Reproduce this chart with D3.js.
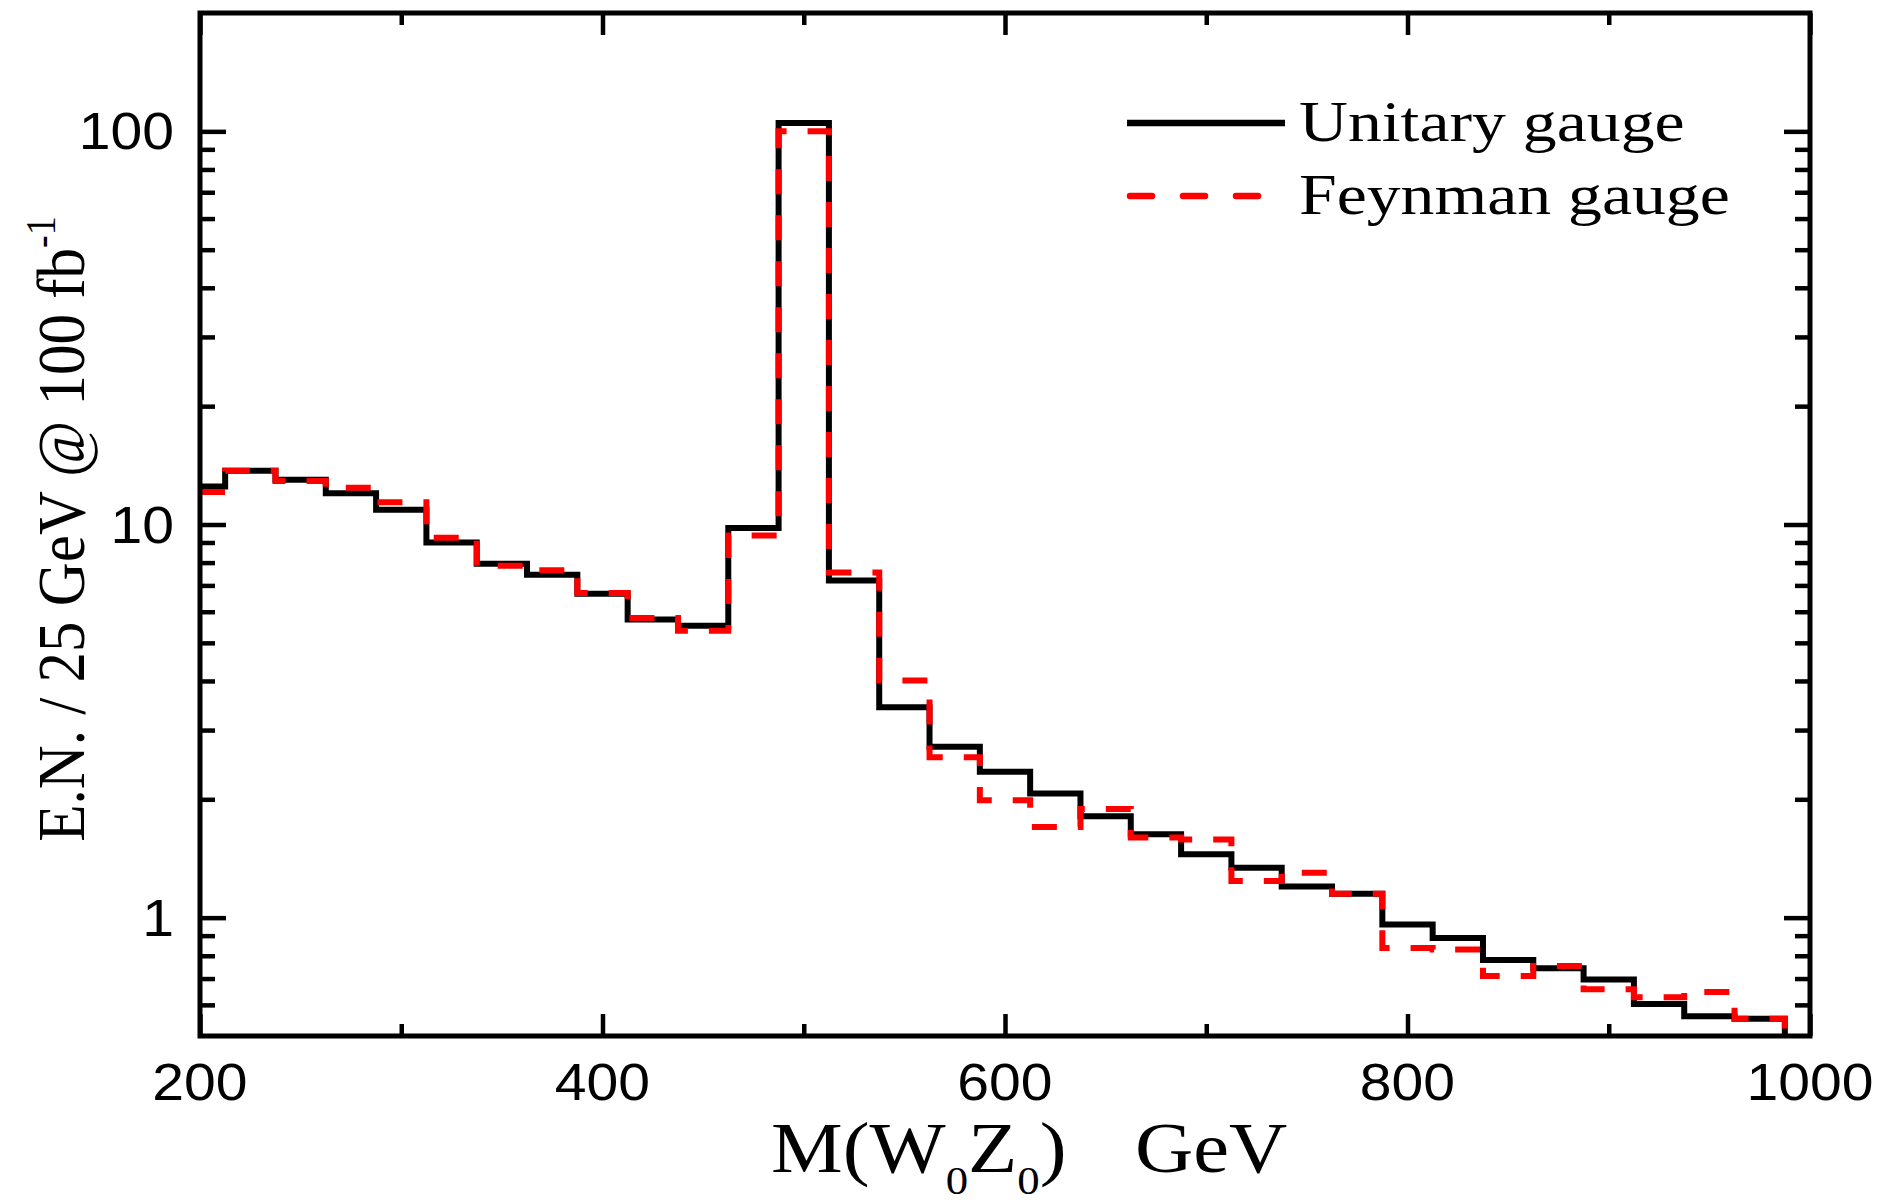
<!DOCTYPE html>
<html>
<head>
<meta charset="utf-8">
<script src="https://cdn.jsdelivr.net/npm/d3@7"></script>
<style>
  html, body { margin: 0; padding: 0; background: #ffffff; }
  svg { display: block; }
</style>
</head>
<body>
<svg id="chart" width="1880" height="1203"></svg>
<script>
// Invariant-mass histogram: bin centres in GeV, 25 GeV per bin
const binCenters = [200, 225, 250, 275, 300, 325, 350, 375, 400, 425, 450,
                    475, 500, 525, 550, 575, 600, 625, 650, 675, 700,
                    725, 750, 775, 800, 825, 850, 875, 900, 925, 950, 975];

// Event numbers per bin, unitary gauge
const unitaryGauge = [12.5, 13.7, 13.0, 12.0, 10.9, 9.0, 7.95, 7.45, 6.67, 5.73, 5.53,
                      9.8, 105, 7.2, 3.43, 2.72, 2.35, 2.07, 1.81, 1.63, 1.45,
                      1.34, 1.20, 1.15, 0.96, 0.887, 0.78, 0.743, 0.696, 0.603, 0.561, 0.553];

// Event numbers per bin, Feynman gauge
const feynmanGauge = [12.1, 13.7, 12.9, 12.4, 11.4, 9.25, 7.85, 7.65, 6.7, 5.78, 5.37,
                      9.38, 100, 7.55, 4.01, 2.56, 1.99, 1.70, 1.89, 1.60, 1.58,
                      1.24, 1.30, 1.15, 0.837, 0.83, 0.711, 0.753, 0.657, 0.627, 0.647, 0.553];

const binWidth = 25;
const xDomain = [200, 1000];
const yDomain = [0.5, 200];

const xMajorTicks = [200, 400, 600, 800, 1000];
const xMinorTicks = [300, 500, 700, 900];
const yMajorTicks = [1, 10, 100];
const yMinorTicks = [0.6, 0.7, 0.8, 0.9, 2, 3, 4, 5, 6, 7, 8, 9, 20, 30, 40, 50, 60, 70, 80, 90];

const seriesNames = ["Unitary gauge", "Feynman gauge"];

// ---- layout ----
const plot = { left: 200, right: 1810, top: 13, bottom: 1036 };
const SANS = "'Liberation Sans', Arial, Helvetica, sans-serif";
const SERIF = "'Liberation Serif', 'Times New Roman', Times, serif";
const stretch = 1.12;   // glyphs are drawn slightly wide

const svg = d3.select("#chart");

const x = d3.scaleLinear().domain(xDomain).range([plot.left, plot.right]);
const y = d3.scaleLog().domain(yDomain).range([plot.bottom, plot.top]);

// ---- histogram outlines ----
function stepVertices(values) {
  const pts = [];
  values.forEach((v, i) => {
    const lo = Math.max(xDomain[0], binCenters[i] - binWidth / 2);
    const hi = binCenters[i] + binWidth / 2;
    pts.push([lo, v], [hi, v]);
  });
  const lastEdge = binCenters[binCenters.length - 1] + binWidth / 2;
  pts.push([lastEdge, yDomain[0]]);
  return pts;
}

const line = d3.line().x(d => x(d[0])).y(d => y(d[1]));

svg.append("path")
  .attr("d", line(stepVertices(unitaryGauge)))
  .attr("fill", "none")
  .attr("stroke", "#000")
  .attr("stroke-width", 6)
  .attr("stroke-linejoin", "miter");

svg.append("path")
  .attr("d", line(stepVertices(feynmanGauge)))
  .attr("fill", "none")
  .attr("stroke", "#ff0000")
  .attr("stroke-width", 6)
  .attr("stroke-dasharray", "25,21")
  .attr("stroke-linejoin", "miter");

// ---- ticks (all pointing into the frame) ----
function ticks(axisGen, translate, values, size) {
  svg.append("g")
    .attr("transform", translate)
    .call(axisGen.tickValues(values).tickSize(size).tickFormat(""))
    .call(g => g.select(".domain").remove())
    .call(g => g.selectAll("line").attr("stroke", "#000").attr("stroke-width", 4.5));
}
ticks(d3.axisBottom(x), `translate(0,${plot.bottom})`, xMajorTicks, -22);
ticks(d3.axisBottom(x), `translate(0,${plot.bottom})`, xMinorTicks, -12);
ticks(d3.axisTop(x), `translate(0,${plot.top})`, xMajorTicks, -22);
ticks(d3.axisTop(x), `translate(0,${plot.top})`, xMinorTicks, -12);
ticks(d3.axisLeft(y), `translate(${plot.left},0)`, yMajorTicks, -26);
ticks(d3.axisLeft(y), `translate(${plot.left},0)`, yMinorTicks, -15);
ticks(d3.axisRight(y), `translate(${plot.right},0)`, yMajorTicks, -26);
ticks(d3.axisRight(y), `translate(${plot.right},0)`, yMinorTicks, -15);

// frame
svg.append("rect")
  .attr("x", plot.left).attr("y", plot.top)
  .attr("width", plot.right - plot.left).attr("height", plot.bottom - plot.top)
  .attr("fill", "none").attr("stroke", "#000").attr("stroke-width", 5);

// ---- tick labels ----
svg.append("g").selectAll("text")
  .data(xMajorTicks)
  .join("text")
  .attr("transform", d => `translate(${x(d)},1100) scale(${stretch},1)`)
  .attr("text-anchor", "middle")
  .attr("font-family", SANS)
  .attr("font-size", 51)
  .attr("fill", "#000")
  .text(d => d);

svg.append("g").selectAll("text")
  .data(yMajorTicks)
  .join("text")
  .attr("transform", d => `translate(174,${y(d) + 18}) scale(${stretch},1)`)
  .attr("text-anchor", "end")
  .attr("font-family", SANS)
  .attr("font-size", 51)
  .attr("fill", "#000")
  .text(d => d);

// ---- axis titles ----
const xTitle = svg.append("text")
  .attr("transform", `translate(771,1172) scale(${stretch},1)`)
  .attr("font-family", SERIF)
  .attr("font-size", 72)
  .attr("fill", "#000");
xTitle.append("tspan").text("M(W");
xTitle.append("tspan").attr("font-size", 40).attr("dy", 22).text("0");
xTitle.append("tspan").attr("dy", -22).text("Z");
xTitle.append("tspan").attr("font-size", 40).attr("dy", 22).text("0");
xTitle.append("tspan").attr("dy", -22).text(")");

svg.append("text")
  .attr("transform", `translate(1135,1172) scale(${stretch},1)`)
  .attr("font-family", SERIF)
  .attr("font-size", 72)
  .attr("fill", "#000")
  .text("GeV");

const yTitle = svg.append("text")
  .attr("transform", `translate(84,529) scale(${stretch},1) rotate(-90)`)
  .attr("text-anchor", "middle")
  .attr("font-family", SERIF)
  .attr("font-size", 61)
  .attr("fill", "#000");
yTitle.append("tspan").text("E.N. / 25 GeV @ 100 fb");
yTitle.append("tspan").attr("font-size", 38).attr("dy", -26).text("-1");

// ---- legend ----
const legend = svg.append("g");
const legendRows = [
  { name: seriesNames[0], y: 123, color: "#000", dash: null, x2: 1285, cap: "butt" },
  { name: seriesNames[1], y: 196, color: "#ff0000", dash: "22,31", x2: 1258, cap: "round" }
];
legendRows.forEach(r => {
  legend.append("line")
    .attr("x1", r.cap === "round" ? 1130 : 1127).attr("x2", r.x2)
    .attr("y1", r.y).attr("y2", r.y)
    .attr("stroke", r.color).attr("stroke-width", 6.5)
    .attr("stroke-linecap", r.cap)
    .attr("stroke-dasharray", r.dash);
  legend.append("text")
    .attr("transform", `translate(1299,${r.y + 18}) scale(1.21,1)`)
    .attr("font-family", SERIF)
    .attr("font-size", 56)
    .attr("fill", "#000")
    .text(r.name);
});
</script>
</body>
</html>
